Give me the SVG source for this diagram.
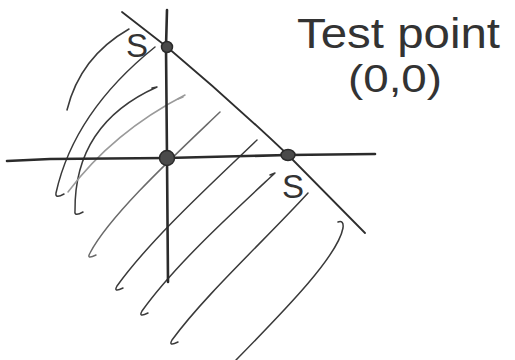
<svg xmlns="http://www.w3.org/2000/svg" width="515" height="360" viewBox="0 0 515 360">
<style>
.ax{fill:none;stroke:#2b2b2b;stroke-width:2.6;stroke-linecap:round;stroke-linejoin:round}
.ln{fill:none;stroke:#2e2e2e;stroke-width:1.8;stroke-linecap:round;stroke-linejoin:round}
.ht{fill:none;stroke:#3a3a3a;stroke-width:1.5;stroke-linecap:round;stroke-linejoin:round}
.lt{stroke:#9a9a9a}
.md{stroke:#6a6a6a}
.pt{fill:#4a4a4a;stroke:#2a2a2a;stroke-width:1.5}
.tx{font-family:"Liberation Sans","DejaVu Sans",sans-serif;fill:#333}
</style>
<rect width="515" height="360" fill="#fff"/>
<g id="hatching">
<path class="ht" d="M129,29 Q80,57 67,110"/>
<path class="ht" d="M155,47 Q74,112 56,193 q-1,6 8,1"/>
<path class="ht" d="M152,88 L157,87 Q74,124 75,211 q-1,6 8,1"/>
<path class="ht lt" d="M185,95 Q113,132 68,192"/>
<path class="ht lt" d="M183,97 L178,99"/>
<path class="ht md" d="M220,112 C175,155 110,215 90,253 q-4,7 6,2"/>
<path class="ht" d="M257,140 C210,185 150,240 117,286 q-4,7 6,2"/>
<path class="ht" d="M270,175 L275,173 C230,215 175,265 142,311 q-4,7 6,2"/>
<path class="ht" d="M308,193 C265,240 205,295 172,340 q-4,7 6,2"/>
<path class="ht" d="M338,222 Q344,220 343,228 C338,255 290,305 236,360"/>
</g>
<g id="axes">
<path class="ax" d="M7,161 L50,159 L167,158 L288,155 L375,154"/>
<path class="ax" d="M167,10 L166,47 L167,158 L168,282"/>
</g>
<g id="connectors">
<path class="ln" d="M122,12 L167,47 Q230,100 288,155 L365,233"/>
</g>
<g id="point-top">
<circle class="pt" cx="167" cy="47" r="5.5"/>
<text class="tx" x="126" y="57" font-size="33">S</text>
</g>
<g id="point-origin">
<circle class="pt" cx="167" cy="158" r="7.5"/>
</g>
<g id="point-right">
<ellipse class="pt" cx="288" cy="155" rx="7" ry="5.5"/>
<text class="tx" x="282" y="198" font-size="33">S</text>
</g>
<g id="label">
<text class="tx" x="297" y="48" font-size="42" textLength="203" lengthAdjust="spacingAndGlyphs">Test point</text>
<text class="tx" x="348" y="92" font-size="38" textLength="94" lengthAdjust="spacingAndGlyphs">(0,0)</text>
</g>
</svg>
